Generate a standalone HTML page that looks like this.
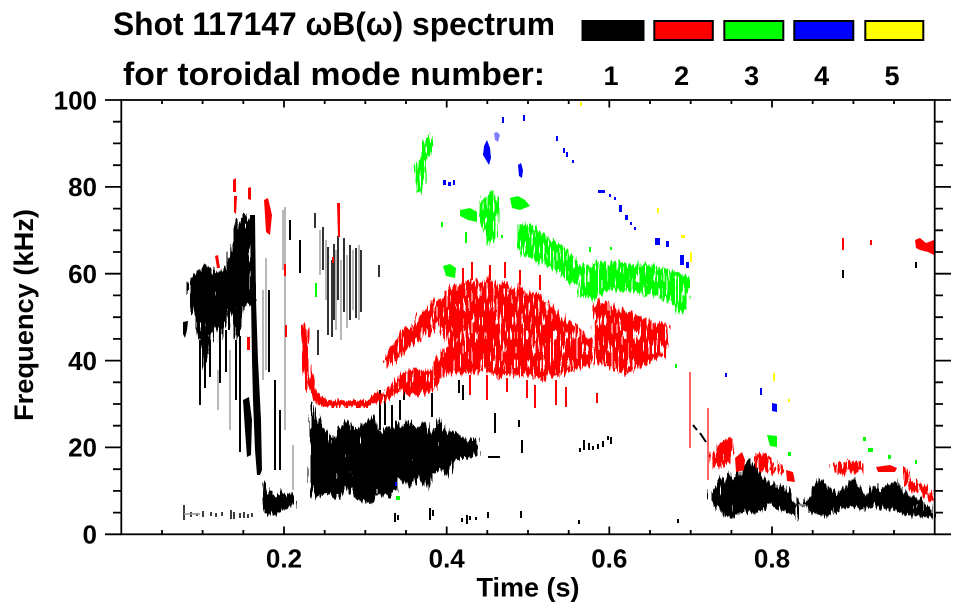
<!DOCTYPE html>
<html><head><meta charset="utf-8"><style>
html,body{margin:0;padding:0;background:#fff;}
svg{display:block;}
text{font-family:"Liberation Sans",Arial,sans-serif;font-weight:bold;fill:#000;}
</style></head><body>
<svg width="963" height="615" viewBox="0 0 963 615" xmlns="http://www.w3.org/2000/svg">
<defs>
<filter id="texA" x="-5%" y="-5%" width="110%" height="110%" color-interpolation-filters="sRGB">
<feTurbulence type="fractalNoise" baseFrequency="0.45 0.035" numOctaves="2" seed="3" result="n"/>
<feDisplacementMap in="SourceGraphic" in2="n" scale="14" xChannelSelector="R" yChannelSelector="G" result="d"/>
<feTurbulence type="fractalNoise" baseFrequency="0.6 0.06" numOctaves="1" seed="11" result="n2"/>
<feColorMatrix in="n2" type="matrix" values="0 0 0 0 0  0 0 0 0 0  0 0 0 0 0  1 0 0 0 0" result="a"/>
<feComponentTransfer in="a" result="m"><feFuncA type="discrete" tableValues="0 0 1 1 1 1 1 1"/></feComponentTransfer>
<feComposite in="d" in2="m" operator="in"/>
</filter>
<filter id="texB" x="-5%" y="-5%" width="110%" height="110%" color-interpolation-filters="sRGB">
<feTurbulence type="fractalNoise" baseFrequency="0.45 0.035" numOctaves="2" seed="5" result="n"/>
<feDisplacementMap in="SourceGraphic" in2="n" scale="14" xChannelSelector="R" yChannelSelector="G" result="d"/>
<feTurbulence type="fractalNoise" baseFrequency="0.6 0.07" numOctaves="1" seed="17" result="n2"/>
<feColorMatrix in="n2" type="matrix" values="0 0 0 0 0  0 0 0 0 0  0 0 0 0 0  1 0 0 0 0" result="a"/>
<feComponentTransfer in="a" result="m"><feFuncA type="discrete" tableValues="0 0 0 1 1 1 1 1"/></feComponentTransfer>
<feComposite in="d" in2="m" operator="in"/>
</filter>
</defs>
<rect width="963" height="615" fill="#fff"/>

<!-- Title -->
<text x="113" y="35" font-size="32" textLength="442" lengthAdjust="spacingAndGlyphs">Shot 117147 ωB(ω) spectrum</text>
<text x="123" y="85" font-size="32" textLength="422" lengthAdjust="spacingAndGlyphs">for toroidal mode number:</text>
<!-- Legend -->
<g stroke="#000" stroke-width="2">
<rect x="582.5" y="21" width="61" height="19" fill="#000"/>
<rect x="654.3" y="21" width="58.5" height="19" fill="#ff0000"/>
<rect x="724.3" y="21" width="59" height="19" fill="#00ff00"/>
<rect x="794.3" y="21" width="59" height="19" fill="#0000ff"/>
<rect x="865.3" y="21" width="58" height="19" fill="#ffff00"/>
</g>
<g font-size="27" text-anchor="middle">
<text x="611" y="85">1</text><text x="681.7" y="85">2</text><text x="751.7" y="85">3</text><text x="821.7" y="85">4</text><text x="892" y="85">5</text>
</g>

<!-- DATA -->
<!-- black -->
<g fill="#000" filter="url(#texA)">
<path d="M188,283 L192,276 L198,272 L205,266 L210,268 L214,273 L220,270 L226,268 L229,255 L232,238 L236,224 L242,218 L248,213 L252,220 L253,235 L250,252 L252,270 L254,300 L250,305 L246,303 L243,313 L240,336 L236,340 L232,315 L228,310 L223,330 L220,342 L217,327 L212,335 L210,343 L207,368 L203,366 L200,343 L197,318 L191,311 L188,300 Z"/>
<path d="M311,404 L316,408 L318,418 L322,425 L326,431 L333,440 L337,430 L342,426 L347,420 L353,426 L358,430 L362,425 L368,420 L373,418 L378,428 L382,432 L387,425 L392,430 L397,420 L402,428 L408,414 L413,425 L418,428 L424,420 L430,432 L436,428 L440,420 L445,432 L452,430 L458,436 L465,438 L472,440 L478,442 L478,455 L470,458 L462,458 L453,462 L448,478 L440,470 L432,474 L428,488 L422,484 L416,478 L410,488 L405,484 L400,478 L396,490 L390,494 L385,497 L378,494 L372,500 L366,503 L360,500 L354,497 L348,488 L342,492 L336,497 L330,493 L323,497 L316,500 L311,490 Z"/>
<path d="M712,493 L716,485 L720,478 L724,482 L728,472 L732,478 L737,468 L741,476 L745,465 L749,458 L753,462 L757,470 L762,480 L766,476 L770,486 L775,482 L780,488 L786,485 L792,495 L797,505 L800,506 L806,502 L810,490 L815,484 L820,478 L826,484 L832,490 L838,494 L843,488 L848,483 L853,480 L858,486 L862,490 L866,494 L870,488 L875,485 L880,490 L885,486 L890,484 L895,480 L900,485 L905,492 L912,496 L920,500 L928,505 L934,510 L934,518 L925,517 L915,516 L905,515 L898,512 L890,510 L880,508 L870,506 L862,510 L852,506 L842,510 L835,512 L828,516 L818,515 L810,512 L804,506 L798,508 L797,520 L793,514 L785,512 L778,508 L770,506 L762,510 L755,514 L748,512 L740,513 L733,518 L726,517 L720,510 L714,505 L712,500 Z"/>
<path d="M263,483 L265,483 L266,492 L270,490 L275,495 L282,491 L290,495 L296,497 L295,505 L286,508 L279,513 L270,516 L264,512 L262,500 Z"/>
</g>
<g fill="#000">
<path d="M183,322 L188,321 L187,330 L185,338 L183,334 Z"/>
<path d="M243,400 L249,397 L252,420 L251,455 L247,457 L245,430 Z"/>
<path d="M250,215 L255,215 L256,300 L258,360 L261,420 L262,470 L260,475 L257,475 L255,450 L253,400 L252,360 L251,300 Z"/>
</g>
<g stroke="#000" stroke-width="2" fill="none">
<path d="M200,340V405 M205,345V388 M210,340V377 M220,300V383 M226,330V372 M236,340V400 M240,336V452 M229,300V330 M269,290V372 M290,220V240 M300,240V273 M275,380V470 M280,410V470"/>
<path stroke-width="1.6" d="M315,213V228 M318,330V355 M323,227V270 M328,247V335 M334,244V320 M338,236V300 M344,238V312 M350,245V320 M356,248V318 M361,250V312 M379,265V277 M332,260V337"/>
<path d="M380,390V430 M385,395V425 M392,405V430 M400,400V420 M459,380V393 M463,385V400 M432,393V417 M404,387V400"/>
<path d="M395,513V522 M398,515V520 M430,508V520 M433,510V516 M467,515V524 M488,512V518 M521,511V518 M476,517V520 M579,520V524 M678,519V523 M462,518V522 M470,516V520" />
<path d="M580,448V452 M584,440V450 M589,443V450 M593,446V450 M598,444V449 M603,441V447 M608,436V440 M611,437V444 M519,420V427 M495,413V433 M522,440V453 M693,425L697,430 M700,433L706,442 M843,270V278 M916,262V268 M488,457H500"/>
<path stroke-width="1.5" d="M184,505V520 M191,512V517 M197,513V516 M203,511V517 M211,512V516 M216,513V517 M222,512V516 M231,510V519 M234,512V519 M240,513V518 M244,512V518 M248,514V518 M252,513V517"/>
</g>
<g stroke="#999" stroke-width="1.4" fill="none">
<path d="M230,350V430 M218,370V410 M263,290V380 M266,258V370 M285,207V430 M293,445V490 M283,210V270 M336,250V330 M341,260V340 M347,255V328 M353,250V310 M359,245V320 M326,240V300 M320,230V275 M184,514H200 M798,505H806"/>
</g>

<!-- red -->
<g fill="#ff0000" filter="url(#texB)">
<path d="M378,398 L390,385 L405,372 L415,368 L425,372 L432,368 L440,355 L448,345 L458,350 L465,358 L478,362 L480,372 L470,374 L458,372 L448,374 L440,378 L432,392 L420,395 L408,395 L400,392 L390,398 L382,404 Z"/>
<path d="M383,362 L395,340 L405,328 L420,315 L437,300 L445,300 L440,320 L428,335 L412,345 L400,355 L390,368 Z"/>
<path d="M440,300 L447,290 L455,285 L465,282 L473,277 L480,283 L490,278 L498,285 L505,280 L512,290 L520,285 L527,295 L535,292 L545,300 L555,310 L565,320 L575,325 L585,335 L592,340 L593,345 L593,365 L580,368 L570,372 L560,375 L550,378 L540,380 L530,375 L520,378 L510,373 L500,378 L490,372 L480,370 L470,370 L462,360 L455,352 L448,345 L442,335 L440,320 Z"/>
<path d="M593,305 L600,300 L610,305 L620,310 L630,312 L640,318 L650,320 L660,322 L668,325 L668,345 L665,360 L655,358 L645,365 L635,370 L625,375 L615,370 L605,365 L595,362 Z"/>
<path d="M710,455 L715,448 L722,444 L728,440 L732,437 L733,452 L730,462 L720,466 L712,470 Z"/>
<path d="M755,457 L760,452 L768,455 L775,462 L782,465 L784,473 L775,472 L765,470 L757,468 Z"/>
<path d="M833,463 L845,461 L863,462 L864,472 L845,473 L834,473 Z"/>
<path d="M902,470 L906,465 L912,478 L920,483 L928,488 L934,492 L934,500 L926,498 L915,493 L905,485 Z"/>
</g>
<g stroke="#ff0000" fill="none" filter="url(#texA)">
<path stroke-width="7" stroke-linejoin="round" d="M305,326 L306,360 L309,385 L316,397 L326,404 L345,404 L368,404 L376,398 L382,392"/>
</g>
<g fill="#ff0000">
<path d="M735,458 L742,452 L745,460 L744,470 L736,472 Z"/>
<path d="M786,470 L793,472 L795,482 L787,481 Z"/>
<path d="M876,467 L890,465 L897,468 L895,472 L878,472 Z"/>
<path d="M915,240 L920,238 L926,243 L934,240 L934,255 L928,252 L920,250 L916,248 Z"/>
<path d="M233,180 L236,178 L236,192 L233,192 Z M234,196 L237,196 L236,214 L234,212 Z M248,188 L251,187 L251,200 L248,199 Z M264,200 L268,198 L272,215 L270,235 L266,232 L265,215 Z M215,256 L218,255 L220,268 L217,268 Z M284,264 L286,264 L286,276 L284,276 Z M337,203 L340,203 L340,237 L338,237 Z M332,257 L334,257 L334,263 L332,263 Z M247,337 L250,337 L250,350 L247,350 Z M285,325 L287,325 L287,337 L285,337 Z"/>
</g>
<g stroke="#ff0000" fill="none">
<path stroke-width="2" d="M463,268V285 M472,262V280 M490,265V280 M505,262V278 M520,270V285 M540,275V290 M470,375V395 M487,375V400 M507,378V392 M527,380V398 M535,385V408 M556,380V405 M566,387V407 M597,393V403 M843,238V250 M871,240V245"/>
<path stroke-width="1.5" opacity="0.8" d="M690,372V448 M708,408V480"/>
</g>

<!-- green -->
<g fill="#00ff00" filter="url(#texB)">
<path d="M518,225 L525,222 L535,228 L545,235 L555,242 L565,250 L575,258 L578,270 L577,285 L570,283 L560,275 L550,268 L540,262 L530,258 L522,255 L518,245 Z"/>
<path d="M577,268 L590,264 L605,262 L620,262 L635,263 L650,265 L665,268 L678,272 L690,278 L690,295 L686,310 L680,313 L672,305 L662,298 L650,295 L635,292 L620,290 L605,292 L592,300 L580,295 Z"/>
<path d="M480,203 L487,195 L493,188 L496,195 L498,210 L497,225 L495,240 L490,243 L485,232 L480,225 L478,215 Z"/>
<path d="M428,135 L433,138 L432,150 L428,165 L424,180 L422,195 L417,193 L414,180 L415,165 L420,152 L424,140 Z"/>
</g>
<g fill="#00ff00">
<path d="M460,210 L470,208 L477,212 L477,222 L468,220 L460,216 Z"/>
<path d="M510,198 L518,196 L525,200 L530,206 L520,210 L512,208 Z"/>
<path d="M443,266 L450,264 L456,268 L455,278 L446,276 Z"/>
<path d="M767,435 L777,436 L777,447 L770,446 Z M788,452 H791 V456 H788 Z M863,437 H866 V441 H863 Z M868,448 H873 V452 H868 Z M888,455 H891 V459 H888 Z M915,460 H917 V464 H915 Z M315,283 H317 V297 H315 Z M441,222 H443 V227 H441 Z M589,247 H591 V252 H589 Z M610,247 H612 V250 H610 Z M465,232 H467 V243 H465 Z M501,235 H503 V238 H501 Z M675,364 H677 V368 H675 Z M396,496 H400 V500 H396 Z"/>
</g>

<!-- blue -->
<g fill="#0000ff">
<path d="M484,146 L487,140 L490,148 L491,158 L489,165 L486,160 L483,155 Z"/>
<path d="M518,165 L521,163 L523,170 L522,178 L519,176 Z"/>
<path d="M772,403 L777,404 L777,412 L772,411 Z"/>
<path d="M502,117 H504 V123 H502 Z M523,115 H525 V121 H523 Z M443,180 H446 V185 H443 Z M448,182 H451 V186 H448 Z M453,180 H455 V185 H453 Z M556,136 H558 V141 H556 Z M563,148 H565 V153 H563 Z M566,152 H568 V157 H566 Z M572,160 H574 V163 H572 Z M598,190 H605 V193 H598 Z M609,194 H611 V197 H609 Z M614,197 H616 V200 H614 Z M619,205 H622 V212 H619 Z M625,215 H628 V220 H625 Z M630,222 H632 V225 H630 Z M634,227 H636 V230 H634 Z M655,238 H660 V245 H655 Z M666,241 H669 V247 H666 Z M680,255 H684 V265 H680 Z M686,262 H689 V268 H686 Z M725,373 H727 V377 H725 Z M760,388 H762 V395 H760 Z M395,482 H397 V486 H395 Z"/>
<path opacity="0.5" d="M494,133 L497,132 L500,135 L498,142 L495,140 Z"/>
</g>

<!-- yellow -->
<g fill="#ffff00">
<path d="M580,102 H582 V106 H580 Z M657,208 H659 V213 H657 Z M681,235 H685 V238 H681 Z M690,252 H692 V262 H690 Z M773,373 H775 V381 H773 Z M788,399 H790 V402 H788 Z"/>
</g>

<!-- AXES -->
<g stroke="#000" stroke-width="1.8" fill="none">
<rect x="121.3" y="100" width="813.4" height="434.3"/>
<path d="M105,534.3H121.3 M105,447.4H121.3 M105,360.6H121.3 M105,273.7H121.3 M105,186.9H121.3 M105,100H121.3
M113,512.6H121.3 M113,490.9H121.3 M113,469.2H121.3 M113,425.7H121.3 M113,404H121.3 M113,382.3H121.3 M113,338.9H121.3 M113,317.2H121.3 M113,295.4H121.3 M113,252H121.3 M113,230.3H121.3 M113,208.6H121.3 M113,165.2H121.3 M113,143.4H121.3 M113,121.7H121.3"/>
<path d="M934.7,534.3H951 M934.7,447.4H951 M934.7,360.6H951 M934.7,273.7H951 M934.7,186.9H951 M934.7,100H951
M934.7,512.6H943 M934.7,490.9H943 M934.7,469.2H943 M934.7,425.7H943 M934.7,404H943 M934.7,382.3H943 M934.7,338.9H943 M934.7,317.2H943 M934.7,295.4H943 M934.7,252H943 M934.7,230.3H943 M934.7,208.6H943 M934.7,165.2H943 M934.7,143.4H943 M934.7,121.7H943"/>
<path d="M162,534.3V530 M202.6,534.3V530 M243.3,534.3V530 M284,534.3V526.5 M324.7,534.3V530 M365.3,534.3V530 M406,534.3V530 M446.7,534.3V526.5 M487.3,534.3V530 M528,534.3V530 M568.7,534.3V530 M609.3,534.3V526.5 M650,534.3V530 M690.7,534.3V530 M731.4,534.3V530 M772,534.3V526.5 M812.7,534.3V530 M853.4,534.3V530 M894,534.3V530"/>
<path d="M162,100V104 M202.6,100V104 M243.3,100V104 M284,100V107.5 M324.7,100V104 M365.3,100V104 M406,100V104 M446.7,100V107.5 M487.3,100V104 M528,100V104 M568.7,100V104 M609.3,100V107.5 M650,100V104 M690.7,100V104 M731.4,100V104 M772,100V107.5 M812.7,100V104 M853.4,100V104 M894,100V104"/>
</g>
<g font-size="26" text-anchor="end">
<text x="97" y="543.6">0</text>
<text x="97" y="456.7">20</text>
<text x="97" y="369.9">40</text>
<text x="97" y="283">60</text>
<text x="97" y="196.2">80</text>
<text x="97" y="109.3">100</text>
</g>
<g font-size="26" text-anchor="middle">
<text x="284" y="567.7">0.2</text>
<text x="446.7" y="567.7">0.4</text>
<text x="609.3" y="567.7">0.6</text>
<text x="772" y="567.7">0.8</text>
</g>
<text x="528" y="596.7" font-size="27" text-anchor="middle" textLength="103" lengthAdjust="spacingAndGlyphs">Time (s)</text>
<text transform="translate(33,315) rotate(-90)" font-size="27" text-anchor="middle" textLength="212" lengthAdjust="spacingAndGlyphs">Frequency (kHz)</text>
</svg>
</body></html>
